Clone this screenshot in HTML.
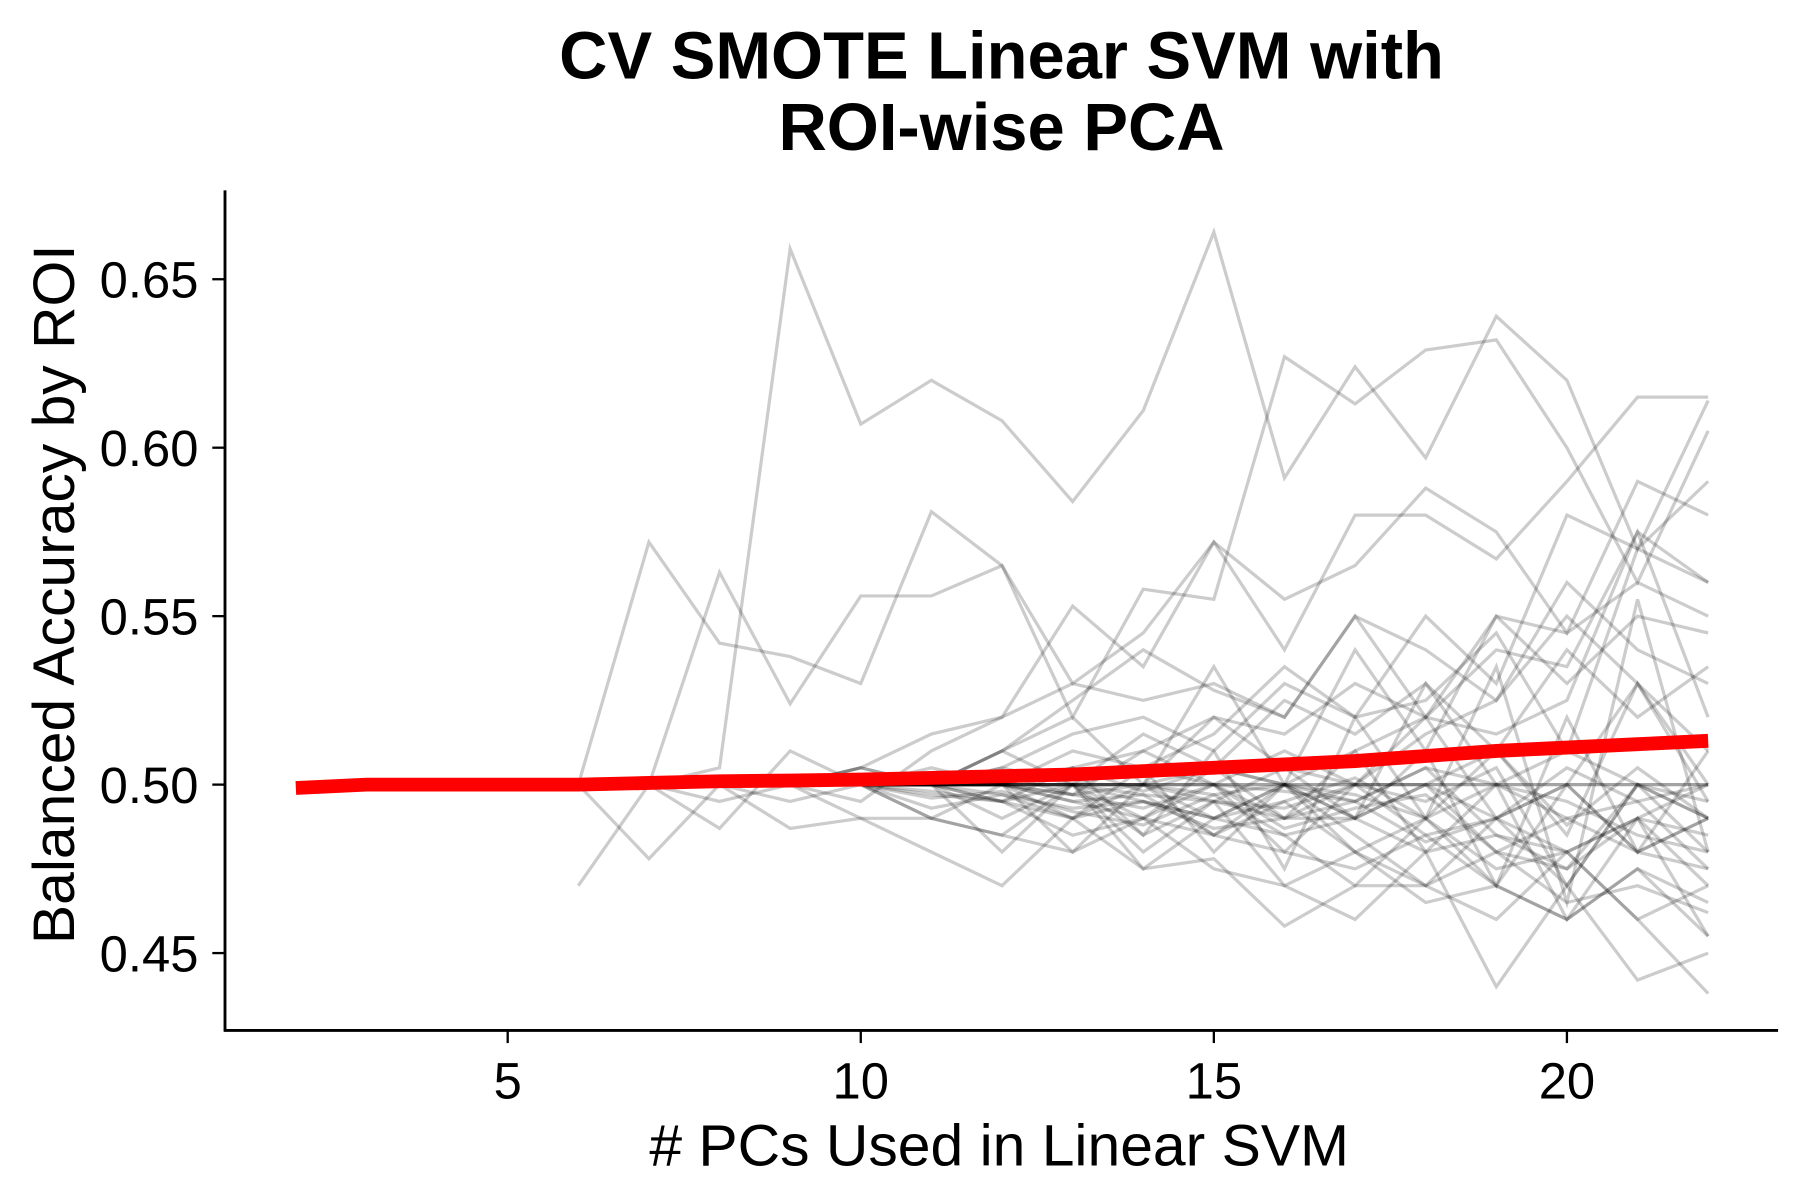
<!DOCTYPE html>
<html><head><meta charset="utf-8"><style>
html,body{margin:0;padding:0;background:#fff;}
svg{display:block;font-family:"Liberation Sans",Arial,sans-serif;}
</style></head><body>
<svg id="chart" width="1800" height="1200" viewBox="0 0 1560 1040" xmlns="http://www.w3.org/2000/svg">
<rect width="1560" height="1040" fill="#fff"/>
<text x="868" y="68" text-anchor="middle" font-size="58" font-weight="bold">CV SMOTE Linear SVM with</text>
<text x="868" y="130" text-anchor="middle" font-size="58" font-weight="bold">ROI-wise PCA</text>
<g id="plot"></g>
<g id="axes"></g>
<text x="866" y="1010" text-anchor="middle" font-size="51">#&#160;PCs Used in Linear SVM</text>
<text transform="translate(64,515) rotate(-90)" text-anchor="middle" font-size="51">Balanced Accuracy by ROI</text>
</svg>
<script>
const xTicks = [5, 10, 15, 20];
const yTicks = [0.45, 0.50, 0.55, 0.60, 0.65];
const yTickLabels = ["0.45", "0.50", "0.55", "0.60", "0.65"];
const roiPcs = [6,7,8,9,10,11,12,13,14,15,16,17,18,19,20,21,22];
const roiSeries = [
[.5,.5,.505,.659,.607,.62,.608,.584,.611,.664,.591,.624,.597,.639,.62,.57,.614],
[.5,.572,.542,.538,.53,.581,.565,.53,.545,.572,.54,.58,.58,.567,.59,.615,.615],
[.5,.5,.563,.524,.556,.556,.565,.52,.558,.555,.627,.613,.629,.632,.6,.56,.605],
[.47,.5,.5,.5,.5,.5,.5,.5,.5,.5,.5,.5,.5,.5,.5,.5,.5],
[.5,.5,.5,.5,.5,.5,.5,.5,.5,.5,.5,.5,.5,.5,.5,.5,.5],
[.5,.478,.5,.5,.505,.5,.51,.525,.54,.528,.52,.55,.52,.54,.535,.575,.52],
[.5,.5,.487,.51,.5,.49,.485,.5,.48,.495,.47,.46,.48,.44,.47,.442,.45],
[.5,.5,.5,.487,.49,.48,.47,.49,.475,.478,.458,.47,.47,.46,.48,.46,.438],
[.5,.5,.5,.5,.495,.51,.52,.553,.535,.572,.555,.565,.588,.575,.545,.59,.58],
[.5,.5,.5,.495,.5,.5,.505,.515,.52,.51,.53,.52,.55,.53,.58,.57,.59],
[.5,.5,.495,.5,.49,.49,.485,.48,.49,.475,.47,.48,.465,.47,.46,.475,.465],
[.5,.5,.5,.5,.5,.493,.497,.49,.495,.49,.5,.48,.49,.47,.5,.48,.475],
[.5,.5,.5,.5,.505,.515,.52,.53,.525,.53,.52,.55,.54,.525,.56,.54,.53],
[.5,.5,.5,.5,.5,.5,.49,.5,.485,.495,.49,.49,.5,.48,.49,.48,.49],
[.5,.5,.5,.5,.5,.5,.5,.51,.505,.515,.535,.52,.525,.545,.51,.57,.56],
[.5,.5,.5,.5,.5,.497,.495,.485,.49,.5,.48,.5,.495,.505,.47,.5,.49],
[.5,.5,.5,.5,.5,.505,.5,.497,.51,.5,.51,.5,.52,.49,.5,.53,.5],
[.5,.5,.5,.5,.5,.5,.48,.5,.475,.49,.485,.47,.49,.475,.48,.46,.47],
[.5,.5,.5,.5,.5,.5,.51,.52,.5,.535,.5,.54,.51,.55,.53,.55,.545],
[.5,.5,.5,.5,.5,.49,.5,.48,.5,.485,.495,.48,.47,.49,.47,.5,.48],
[.5,.5,.5,.5,.5,.5,.505,.5,.515,.505,.525,.515,.53,.51,.54,.52,.535],
[.5,.5,.5,.5,.5,.5,.5,.495,.49,.505,.49,.51,.48,.5,.49,.495,.5],
[.5,.5,.5,.5,.5,.5,.495,.505,.485,.51,.475,.52,.49,.535,.465,.555,.48],
[.5,.5,.5,.5,.5,.5,.5,.5,.5,.497,.5,.49,.51,.47,.52,.48,.51],
[.5,.5,.5,.5,.505,.5,.51,.5,.5,.52,.505,.49,.53,.5,.46,.49,.455],
[.5,.5,.5,.5,.5,.5,.5,.49,.505,.48,.5,.49,.5,.51,.485,.53,.495],
[.5,.5,.5,.5,.5,.496,.498,.492,.488,.497,.485,.49,.48,.485,.475,.49,.47],
[.5,.5,.5,.5,.5,.5,.503,.497,.5,.49,.495,.502,.49,.5,.495,.485,.48],
[.5,.5,.5,.5,.5,.5,.497,.493,.495,.487,.49,.495,.483,.49,.48,.49,.485],
[.5,.5,.5,.5,.5,.502,.5,.505,.498,.505,.5,.495,.505,.5,.51,.5,.495],
[.5,.5,.5,.5,.5,.5,.5,.497,.493,.5,.487,.493,.497,.48,.475,.5,.49],
[.5,.5,.5,.5,.5,.5,.5,.5,.495,.49,.5,.485,.47,.48,.465,.47,.462],
[.5,.5,.5,.5,.5,.5,.495,.49,.5,.495,.505,.5,.515,.525,.55,.53,.51],
[.5,.5,.5,.5,.5,.5,.5,.505,.51,.52,.515,.53,.52,.55,.545,.56,.55],
[.5,.5,.5,.5,.5,.5,.5,.5,.49,.485,.48,.475,.485,.47,.46,.475,.455],
[.5,.5,.5,.5,.5,.5,.5,.5,.497,.495,.493,.5,.5,.49,.505,.495,.475],
[.5,.5,.5,.5,.5,.498,.495,.5,.5,.505,.5,.51,.52,.515,.525,.575,.56],
[.5,.5,.5,.5,.5,.5,.5,.495,.497,.485,.5,.497,.49,.51,.488,.505,.49],
[.5,.5,.5,.5,.5,.5,.5,.5,.505,.5,.498,.495,.505,.485,.48,.49,.5],
[.5,.5,.5,.5,.5,.5,.5,.5,.5,.5,.49,.5,.485,.49,.5,.48,.49]
];
const meanPcs = [2,3,4,5,6,7,8,9,10,11,12,13,14,15,16,17,18,19,20,21,22];
const meanValues = [0.499,0.5,0.5,0.5,0.5,0.5005,0.501,0.5012,0.5015,0.502,0.5025,0.503,0.504,0.505,0.506,0.507,0.5085,0.51,0.511,0.512,0.513];

const NS = "http://www.w3.org/2000/svg";
function xScale(v){ return 440 + (v - 5) * 61.2; }
function yScale(v){ return 680 - (v - 0.5) / 0.05 * 146; }
const plot = document.getElementById('plot');
const axes = document.getElementById('axes');

roiSeries.forEach(function(s, i){
  const p = document.createElementNS(NS, 'polyline');
  p.setAttribute('points', s.map(function(v, j){ return xScale(roiPcs[j]) + ',' + yScale(v); }).join(' '));
  p.setAttribute('fill', 'none');
  p.setAttribute('stroke', 'rgba(0,0,0,0.2)');
  p.setAttribute('stroke-width', '2.8');
  
  
  plot.appendChild(p);
});
const m = document.createElementNS(NS, 'polyline');
m.setAttribute('points', meanValues.map(function(v, j){ return xScale(meanPcs[j]) + ',' + yScale(v); }).join(' '));
m.setAttribute('fill', 'none');
m.setAttribute('stroke', '#ff0000');
m.setAttribute('stroke-width', '12');


plot.appendChild(m);

const xa = document.createElementNS(NS, 'line');
xa.setAttribute('x1', 194); xa.setAttribute('x2', 1541); xa.setAttribute('y1', 893); xa.setAttribute('y2', 893);
xa.setAttribute('stroke', '#000'); xa.setAttribute('stroke-width', '2.5');


axes.appendChild(xa);
const ya = document.createElementNS(NS, 'line');
ya.setAttribute('x1', 195); ya.setAttribute('x2', 195); ya.setAttribute('y1', 165); ya.setAttribute('y2', 894);
ya.setAttribute('stroke', '#000'); ya.setAttribute('stroke-width', '2.5');


axes.appendChild(ya);

xTicks.forEach(function(t){
  const x = xScale(t);
  const l = document.createElementNS(NS, 'line');
  l.setAttribute('x1', x); l.setAttribute('x2', x); l.setAttribute('y1', 893); l.setAttribute('y2', 904);
  l.setAttribute('stroke', '#000'); l.setAttribute('stroke-width', '2');
  
  
  axes.appendChild(l);
  const tx = document.createElementNS(NS, 'text');
  tx.setAttribute('x', x); tx.setAttribute('y', 952);
  tx.setAttribute('text-anchor', 'middle'); tx.setAttribute('font-size', '44');
  tx.textContent = String(t);
  
  
  axes.appendChild(tx);
});
yTicks.forEach(function(t, i){
  const y = yScale(t);
  const l = document.createElementNS(NS, 'line');
  l.setAttribute('x1', 184); l.setAttribute('x2', 195); l.setAttribute('y1', y); l.setAttribute('y2', y);
  l.setAttribute('stroke', '#000'); l.setAttribute('stroke-width', '2');
  
  
  axes.appendChild(l);
  const tx = document.createElementNS(NS, 'text');
  tx.setAttribute('x', 172); tx.setAttribute('y', y + 16);
  tx.setAttribute('text-anchor', 'end'); tx.setAttribute('font-size', '44');
  tx.textContent = yTickLabels[i];
  
  
  axes.appendChild(tx);
});
</script>
</body></html>
